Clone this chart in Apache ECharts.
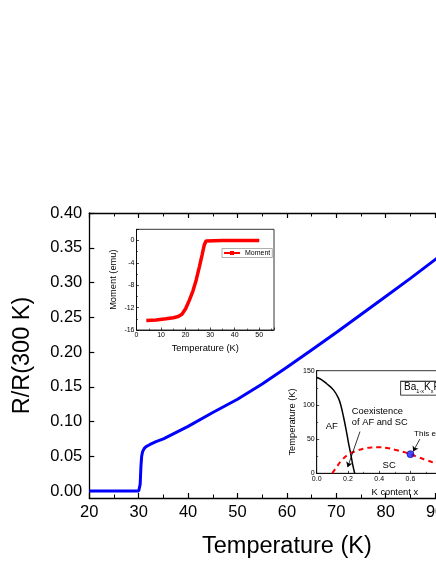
<!DOCTYPE html>
<html>
<head>
<meta charset="utf-8">
<script src="https://cdn.jsdelivr.net/npm/echarts@6/dist/echarts.min.js"></script>
<style>
html, body { margin: 0; padding: 0; background: #fff; overflow: hidden; }
#chart { width: 520px; height: 564px; }
</style>
</head>
<body>
<div id="chart"></div>
<script>
// main curve: R/R(300 K) vs temperature
var tempK = [20, 25, 30, 30.1, 30.3, 30.45, 30.6, 30.8, 31.1, 31.5, 32.3, 33.5, 35, 40, 45, 50, 55, 60, 65, 70, 75, 80, 85, 90, 95, 100];
var resistRatio = [0, 0, 0, 0, 0.01, 0.035, 0.05, 0.057, 0.061, 0.064, 0.067, 0.071, 0.075, 0.093, 0.113, 0.132, 0.154, 0.178, 0.203, 0.228, 0.254, 0.280, 0.306, 0.333, 0.360, 0.387];
var yTickValues = [0, 0.05, 0.10, 0.15, 0.20, 0.25, 0.30, 0.35, 0.40];
var yMinorValues = [0.025, 0.075, 0.125, 0.175, 0.225, 0.275, 0.325, 0.375];

// inset 1: magnetic moment
var momentT = [4, 8, 12, 15, 17, 18.5, 20, 21.5, 23, 24.3, 25.6, 26.7, 27.6, 28.3, 29, 35, 40, 45, 50];
var moment = [-14.3, -14.2, -14.0, -13.8, -13.6, -13.2, -12.2, -10.7, -9.0, -7.1, -4.7, -2.6, -0.8, -0.1, 0, 0, 0, 0, 0];

// inset 2: phase diagram
var afX = [0, 0.03, 0.064, 0.107, 0.139, 0.156, 0.171, 0.188, 0.203, 0.218, 0.231, 0.243];
var afT = [140, 137, 131, 122, 110, 98, 83, 64, 45, 28, 12, 0];
var scX = [0.1, 0.13, 0.16, 0.2, 0.25, 0.3, 0.35, 0.4, 0.45, 0.5, 0.55, 0.6, 0.65, 0.7, 0.75, 0.8, 0.85, 0.9, 0.95, 1.0];
var scT = [0, 10, 19, 27, 32.5, 36, 37.8, 38, 37, 34.5, 31.5, 28, 23.5, 19.5, 15.5, 12, 9, 6.5, 4.5, 3.5];
var expX = [0.6];
var expT = [28];

function zip(a, b) {
	var out = [];
	for (var i = 0; i < a.length; i++) {
		out.push([a[i], b[i]]);
	}
	return out;
}

var font = 'Liberation Sans, Arial, sans-serif';
var black = '#000';

function insetX(grid, min, max, interval, name, gap, fmt) {
	return {
		type: 'value', gridIndex: grid, min: min, max: max, interval: interval,
		name: name, nameLocation: 'middle', nameGap: gap,
		nameTextStyle: { fontFamily: font, fontSize: 9.3, color: black },
		axisLine: { onZero: false, lineStyle: { color: black, width: 0.8 } },
		axisTick: { inside: true, length: 2.5, lineStyle: { color: black, width: 0.7 } },
		minorTick: { show: true, splitNumber: 2, length: 1.5, lineStyle: { color: black, width: 0.6 } },
		axisLabel: { fontFamily: font, fontSize: 7, color: black, margin: 2, formatter: fmt, showMaxLabel: false },
		splitLine: { show: false }
	};
}

function insetY(grid, min, max, interval, name, gap) {
	return {
		type: 'value', gridIndex: grid, min: min, max: max, interval: interval,
		name: name, nameLocation: 'middle', nameGap: gap,
		nameTextStyle: { fontFamily: font, fontSize: 9.3, color: black },
		axisLine: { onZero: false, lineStyle: { color: black, width: 0.8 } },
		axisTick: { inside: true, length: 2.5, lineStyle: { color: black, width: 0.7 } },
		minorTick: { show: true, splitNumber: 2, length: 1.5, lineStyle: { color: black, width: 0.6 } },
		axisLabel: { fontFamily: font, fontSize: 7, color: black, margin: 2, showMaxLabel: max % interval === 0 },
		splitLine: { show: false }
	};
}

var chart = echarts.init(document.getElementById('chart'));
var option = {
	animation: false,
	backgroundColor: '#fff',
	grid: [
		{ left: 89.3, top: 213, right: 35.5, bottom: 61, containLabel: false },
		{ left: 136.5, top: 229.3, right: 246, bottom: 234, show: true, backgroundColor: '#fff', borderColor: black, borderWidth: 0.8 },
		{ left: 316.7, top: 370.7, right: 47, bottom: 90.7, show: true, backgroundColor: '#fff', borderColor: black, borderWidth: 0.8 }
	],
	legend: {
		data: ['Moment'],
		left: 222, top: 248.5,
		itemWidth: 16, itemHeight: 5, itemGap: 0,
		padding: [1, 2, 1, 1],
		borderColor: '#777', borderWidth: 0.6,
		textStyle: { fontFamily: font, fontSize: 7, color: black }
	},
	xAxis: [
		{
			type: 'value', gridIndex: 0, min: 20, max: 100, interval: 10,
			name: 'Temperature (K)', nameLocation: 'middle', nameGap: 37,
			nameTextStyle: { fontFamily: font, fontSize: 23.5, color: black },
			axisLine: { onZero: false, lineStyle: { color: black, width: 1.3 } },
			axisTick: { inside: true, length: 5, lineStyle: { color: black, width: 1.2 } },
			minorTick: { show: true, splitNumber: 2, length: 3.5, lineStyle: { color: black, width: 1 } },
			axisLabel: { fontFamily: font, fontSize: 16.5, color: black, margin: 6 },
			splitLine: { show: false }
		},
		{
			type: 'value', gridIndex: 0, position: 'top', min: 20, max: 100, interval: 10,
			axisLine: { onZero: false, lineStyle: { color: black, width: 1.3 } },
			axisTick: { inside: true, length: 5, lineStyle: { color: black, width: 1.2 } },
			minorTick: { show: true, splitNumber: 2, length: 3.5, lineStyle: { color: black, width: 1 } },
			axisLabel: { show: false },
			splitLine: { show: false }
		},
		insetX(1, 0, 56, 10, 'Temperature (K)', 14),
		insetX(2, 0, 1, 0.2, 'K content x', 15, function (v) { return v.toFixed(1); })
	],
	yAxis: [
		{
			type: 'value', gridIndex: 0, min: -0.01, max: 0.40,
			name: 'R/R(300 K)', nameLocation: 'middle', nameGap: 55,
			nameTextStyle: { fontFamily: font, fontSize: 23.5, color: black },
			axisLine: { onZero: false, lineStyle: { color: black, width: 1.3 } },
			axisTick: { inside: true, length: 5, customValues: yTickValues, lineStyle: { color: black, width: 1.2 } },
			axisLabel: {
				fontFamily: font, fontSize: 16.5, color: black, margin: 7, customValues: yTickValues,
				formatter: function (v) { return v.toFixed(2); }
			},
			splitLine: { show: false }
		},
		{
			type: 'value', gridIndex: 0, min: -0.01, max: 0.40,
			axisLine: { show: false, onZero: false },
			axisTick: { inside: true, length: 3.5, customValues: yMinorValues, lineStyle: { color: black, width: 1 } },
			axisLabel: { show: false },
			splitLine: { show: false }
		},
		insetY(1, -16, 2, 4, 'Moment (emu)', 19),
		insetY(2, 0, 150, 50, 'Temperature (K)', 20)
	],
	series: [
		{
			type: 'line', xAxisIndex: 0, yAxisIndex: 0,
			data: zip(tempK, resistRatio),
			showSymbol: false,
			lineStyle: { color: '#0000ff', width: 3 },
			itemStyle: { color: '#0000ff' }
		},
		{
			name: 'Moment',
			type: 'line', xAxisIndex: 2, yAxisIndex: 2,
			data: zip(momentT, moment),
			symbol: 'rect', symbolSize: 5, showSymbol: false,
			lineStyle: { color: '#ff0000', width: 3.5 },
			itemStyle: { color: '#ff0000' }
		},
		{
			type: 'line', xAxisIndex: 3, yAxisIndex: 3,
			data: zip(afX, afT),
			smooth: 0.4, showSymbol: false,
			lineStyle: { color: black, width: 1.5 },
			markLine: {
				silent: true,
				symbol: ['none', 'arrow'], symbolSize: 5,
				label: { show: false },
				lineStyle: { color: black, width: 0.8, type: 'solid' },
				data: [
					[{ coord: [0.277, 61] }, { coord: [0.198, 9] }],
					[{ coord: [0.66, 50] }, { coord: [0.617, 32] }]
				]
			}
		},
		{
			type: 'line', xAxisIndex: 3, yAxisIndex: 3,
			data: zip(scX, scT),
			smooth: 0.4, showSymbol: false,
			lineStyle: { color: '#ff0000', width: 2, type: [5, 4] }
		},
		{
			type: 'scatter', xAxisIndex: 3, yAxisIndex: 3,
			data: zip(expX, expT),
			symbolSize: 7, z: 5,
			itemStyle: { color: '#1a1aff', borderColor: '#000090', borderWidth: 0.8 }
		}
	]
};
chart.setOption(option);

// annotations of the phase diagram, placed in data coordinates
function at(x, y) {
	return chart.convertToPixel({ xAxisIndex: 3, yAxisIndex: 3 }, [x, y]);
}
var notes = [
	{ text: 'AF', pos: at(0.096, 68), align: 'center', size: 9.5 },
	{ text: 'Coexistence', pos: at(0.225, 91), align: 'left', size: 9.3 },
	{ text: 'of AF and SC', pos: at(0.225, 75), align: 'left', size: 9.3 },
	{ text: 'SC', pos: at(0.464, 11), align: 'center', size: 9.5 },
	{ text: 'This experiment', pos: at(0.623, 57.5), align: 'left', size: 8 }
];
var graphic = [];
for (var i = 0; i < notes.length; i++) {
	graphic.push({
		type: 'text', x: notes[i].pos[0], y: notes[i].pos[1], z: 100,
		style: {
			text: notes[i].text, fill: black, fontFamily: font, fontSize: notes[i].size,
			align: notes[i].align, verticalAlign: 'middle'
		}
	});
}
var boxPos = at(0.54, 134);
graphic.push({
	type: 'text', x: boxPos[0], y: boxPos[1], z: 100,
	style: {
		text: '{n|Ba}{s|1-x}{n|K}{s|x}{n|Fe}{s|2}{n|As}{s|2}',
		rich: {
			n: { fontFamily: font, fontSize: 10, fill: black, lineHeight: 12, verticalAlign: 'top' },
			s: { fontFamily: font, fontSize: 5.5, fill: black, lineHeight: 12, verticalAlign: 'bottom', padding: [4, 0, 0, 0] }
		},
		backgroundColor: '#fff', borderColor: black, borderWidth: 0.8,
		padding: [1, 3, 0, 3]
	}
});
chart.setOption({ graphic: graphic });
</script>
</body>
</html>
